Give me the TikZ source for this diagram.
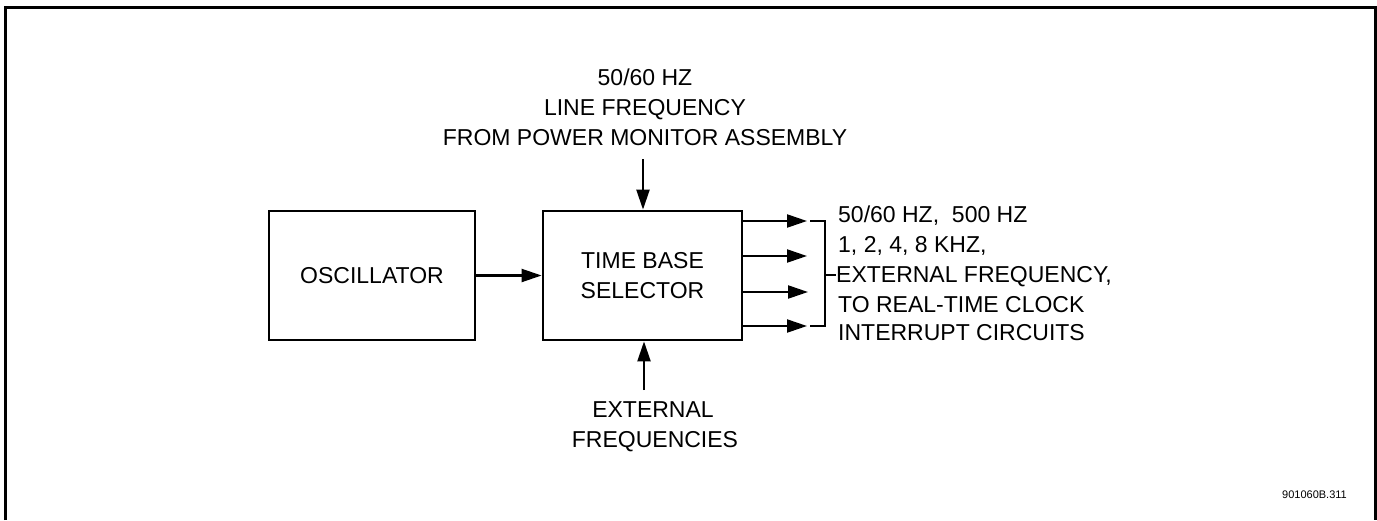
\documentclass[tikz,border=0pt]{standalone}
\usepackage{fontspec}
\setmainfont{Liberation Sans}
\usetikzlibrary{arrows.meta}
\begin{document}
\begin{tikzpicture}[x=1pt,y=-1pt,
  every node/.style={font=\fontsize{23}{29.5}\selectfont, inner sep=0pt},
  blk/.style={draw, line width=2.8pt, inner sep=0pt, align=center},
  conn/.style={line width=2.2pt, -{Triangle[length=20pt,width=13pt]}},
  wire/.style={line width=2.2pt},
  lbl/.style={anchor=base},
  rlbl/.style={anchor=base west}
]
\useasboundingbox (0,0) rectangle (1377,520);
\draw[line width=3pt] (5,520) -- (5,7) -- (1375,7) -- (1375,520);

\node[blk, minimum width=206, minimum height=129] (osc) at (372,275.5) {OSCILLATOR};
\node[blk, minimum width=199, minimum height=129] (tbs) at (642.5,275.5) {TIME BASE\\SELECTOR};

\draw[conn] (osc.east) -- (tbs.west);

% top input
\node[lbl] (t1) at (645,85) {50/60 HZ};
\node[lbl] (t2) at (645,115) {LINE FREQUENCY};
\node[lbl] (t3) at (645,145) {FROM POWER MONITOR ASSEMBLY};
\coordinate (ta) at (643,159);
\draw[conn] (ta) -- (ta |- tbs.north);

% bottom input
\node[lbl] (b1) at (653,417) {EXTERNAL};
\node[lbl] (b2) at (655,447) {FREQUENCIES};
\coordinate (ba) at (644,390);
\draw[conn] (ba) -- (ba |- tbs.south);

% outputs
\coordinate (o1) at (807,221);
\coordinate (o2) at (807,256);
\coordinate (o3) at (808,292);
\coordinate (o4) at (807,326);
\foreach \o in {o1,o2,o3,o4} \draw[conn] (tbs.east |- \o) -- (\o);

% bracket
\coordinate (k1) at (810,221);
\coordinate (k2) at (825,221);
\coordinate (k3) at (825,326);
\coordinate (k4) at (810,326);
\coordinate (km) at (825,275);
\coordinate (kt) at (836,275);
\draw[wire] (k1) -- (k2) -- (k3) -- (k4);
\draw[wire] (km) -- (kt);

\node[rlbl] (r1) at (838,222) {50/60 HZ,\ \ 500 HZ};
\node[rlbl] (r2) at (838,252) {1,\ 2,\ 4,\ 8 KHZ,};
\node[rlbl] (r3) at (836,282) {EXTERNAL FREQUENCY,};
\node[rlbl] (r4) at (838,312) {TO REAL-TIME CLOCK};
\node[rlbl] (r5) at (838,340) {INTERRUPT CIRCUITS};

\node[anchor=base east, font=\fontsize{11}{13}\selectfont] (code) at (1347,498) {901060B.311};
\end{tikzpicture}
\end{document}
